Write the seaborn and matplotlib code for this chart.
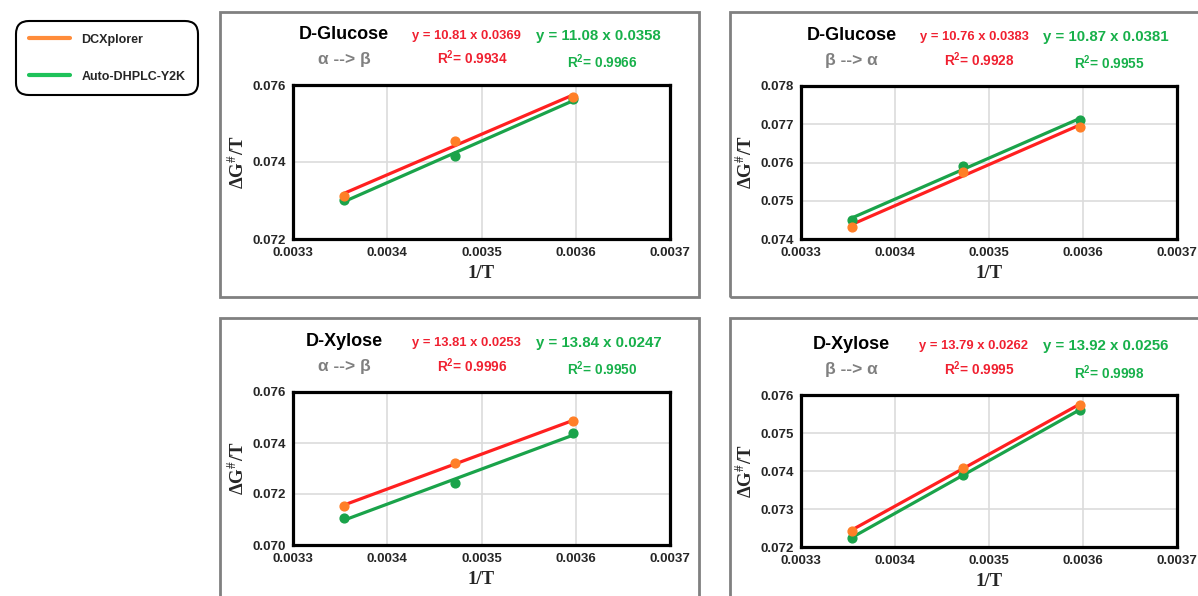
import matplotlib
matplotlib.use('Agg')
import matplotlib.pyplot as plt
import seaborn as sns
import numpy as np
from matplotlib.patches import Rectangle
from matplotlib.lines import Line2D

# Data
inv_T = [0.003354, 0.003472, 0.003597]

glc_ab_dcx = [0.07312, 0.07455, 0.07568]
glc_ab_auto = [0.07301, 0.07416, 0.07563]
glc_ba_dcx = [0.07432, 0.07576, 0.07693]
glc_ba_auto = [0.07450, 0.07591, 0.07711]
xyl_ab_dcx = [0.07154, 0.07323, 0.07486]
xyl_ab_auto = [0.07105, 0.07244, 0.07438]
xyl_ba_dcx = [0.07243, 0.07409, 0.07575]
xyl_ba_auto = [0.07224, 0.07390, 0.07561]

sugars = ['D-Glucose', 'D-Glucose', 'D-Xylose', 'D-Xylose']
directions = ['α --> β', 'β --> α', 'α --> β', 'β --> α']
eq_dcx = ['y = 10.81 x 0.0369', 'y = 10.76 x 0.0383', 'y = 13.81 x 0.0253', 'y = 13.79 x 0.0262']
r2_dcx = ['0.9934', '0.9928', '0.9996', '0.9995']
eq_auto = ['y = 11.08 x 0.0358', 'y = 10.87 x 0.0381', 'y = 13.84 x 0.0247', 'y = 13.92 x 0.0256']
r2_auto = ['0.9966', '0.9955', '0.9950', '0.9998']
dcx_series = [glc_ab_dcx, glc_ba_dcx, xyl_ab_dcx, xyl_ba_dcx]
auto_series = [glc_ab_auto, glc_ba_auto, xyl_ab_auto, xyl_ba_auto]
y_limits = [(0.072, 0.076), (0.074, 0.078), (0.070, 0.076), (0.072, 0.076)]
y_steps = [0.002, 0.001, 0.002, 0.001]
x_ticks = [0.0033, 0.0034, 0.0035, 0.0036, 0.0037]

orange = '#ff7f27'
red = '#ff2020'
green = '#1aa34a'
green_txt = '#17b04a'
red_txt = '#f02030'

sns.set_style('whitegrid')
plt.rcParams['font.family'] = ['Liberation Sans', 'DejaVu Sans']
plt.rcParams['mathtext.fontset'] = 'custom'
plt.rcParams['mathtext.rm'] = 'Liberation Sans:bold'
plt.rcParams['mathtext.it'] = 'Liberation Sans:bold'
plt.rcParams['mathtext.bf'] = 'Liberation Sans:bold'

W, H = 1198, 596
fig = plt.figure(figsize=(W / 100, H / 100), dpi=100)

# panel frames (pixels: x0, y0, x1, y1)
frames = [(220, 12, 699, 297), (730, 12, 1202, 297), (220, 318, 699, 600), (730, 318, 1202, 600)]
for x0, y0, x1, y1 in frames:
    fig.add_artist(Rectangle((x0 / W, 1 - y1 / H), (x1 - x0) / W, (y1 - y0) / H,
                             transform=fig.transFigure, fill=False,
                             edgecolor='#808080', lw=2))

# axes boxes (pixels: left, top, right, bottom)
boxes = [(293, 85, 670, 239), (801, 86, 1177, 239), (293, 392, 670, 545), (801, 395, 1177, 547)]

for i, (l, t, r, b) in enumerate(boxes):
    ax = fig.add_axes([l / W, 1 - b / H, (r - l) / W, (b - t) / H])
    sns.regplot(x=inv_T, y=auto_series[i], ax=ax, ci=None, truncate=True,
                scatter_kws={'color': green, 's': 40, 'zorder': 4, 'alpha': 1},
                line_kws={'color': green, 'lw': 2.3, 'zorder': 3})
    sns.regplot(x=inv_T, y=dcx_series[i], ax=ax, ci=None, truncate=True,
                scatter_kws={'color': orange, 's': 40, 'zorder': 4, 'alpha': 1},
                line_kws={'color': red, 'lw': 2.3, 'zorder': 3})
    lo, hi = y_limits[i]
    ax.set_xlim(0.0033, 0.0037)
    ax.set_ylim(lo, hi)
    ax.set_xticks(x_ticks)
    ax.set_xticklabels([f'{v:.4f}' for v in x_ticks])
    yt = np.arange(lo, hi + 1e-9, y_steps[i])
    ax.set_yticks(yt)
    ax.set_yticklabels([f'{v:.3f}' for v in yt])
    ax.tick_params(length=0, labelsize=9.5)
    ax.tick_params(axis='x', pad=6)
    ax.tick_params(axis='y', pad=5)
    for lab in ax.get_xticklabels() + ax.get_yticklabels():
        lab.set_fontweight('bold')
    ax.grid(True, color='#dcdcdc', lw=1.2)
    for sp in ax.spines.values():
        sp.set_color('black')
        sp.set_linewidth(2.3)
    ax.set_xlabel('1/T', family='Liberation Serif', fontweight='bold', fontsize=13.5, labelpad=4)
    ax.set_ylabel(r'ΔG$^{\#}$/T', family='Liberation Serif', fontweight='bold', fontsize=13.5,
                  math_fontfamily='stix', labelpad=3)

    ax.text(0.135, 1.33, sugars[i], transform=ax.transAxes, ha='center', va='center',
            fontsize=13, fontweight='bold', color='black')
    ax.text(0.135, 1.165, directions[i], transform=ax.transAxes, ha='center', va='center',
            fontsize=12.5, fontweight='bold', color='#808080')
    ax.text(0.46, 1.32, eq_dcx[i], transform=ax.transAxes, ha='center', va='center',
            fontsize=9.4, fontweight='bold', color=red_txt)
    ax.text(0.475, 1.175, r'R$^2$= ' + r2_dcx[i], transform=ax.transAxes, ha='center', va='center',
            fontsize=9.8, fontweight='bold', color=red_txt)
    ax.text(0.81, 1.32, eq_auto[i], transform=ax.transAxes, ha='center', va='center',
            fontsize=10.8, fontweight='bold', color=green_txt)
    ax.text(0.82, 1.15, r'R$^2$= ' + r2_auto[i], transform=ax.transAxes, ha='center', va='center',
            fontsize=9.8, fontweight='bold', color=green_txt)

handles = [Line2D([], [], color='#ff8c3a', lw=3), Line2D([], [], color='#1ec25a', lw=3)]
leg = fig.legend(handles, ['DCXplorer', 'Auto-DHPLC-Y2K'], loc='upper left',
                 bbox_to_anchor=(10 / W, 1 - 15 / H), frameon=True, fancybox=True,
                 edgecolor='black', handlelength=3.3, labelspacing=2.0, borderpad=1.0,
                 handletextpad=0.9, prop={'weight': 'bold', 'size': 9})
leg.get_frame().set_linewidth(1.5)
leg.get_frame().set_alpha(1)
leg.get_frame().set_boxstyle('round', pad=0, rounding_size=1.0)

fig.savefig('out.png', dpi=100)
